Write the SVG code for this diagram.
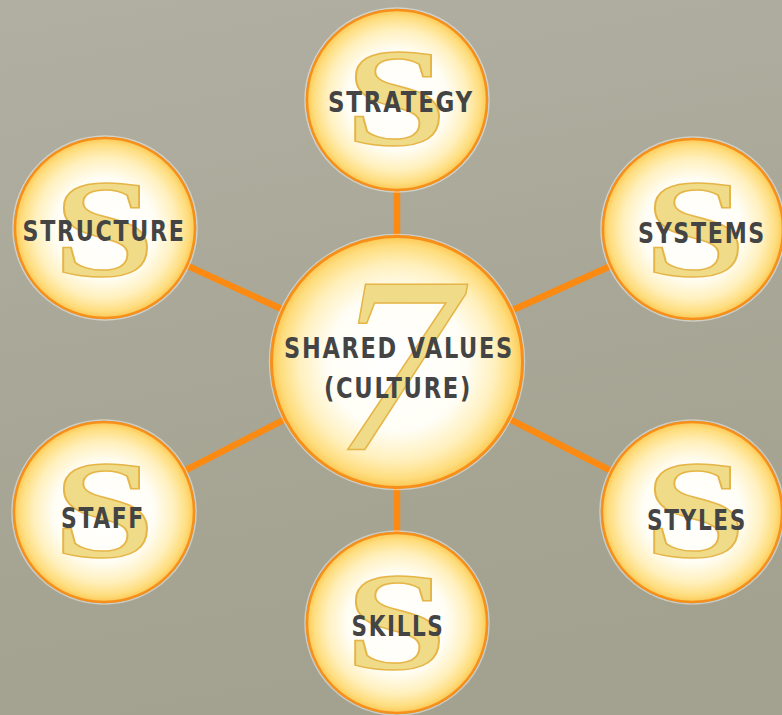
<svg xmlns="http://www.w3.org/2000/svg" width="782" height="715" viewBox="0 0 782 715">
  <defs>
    <linearGradient id="bg" x1="0" y1="0" x2="0.2" y2="1">
      <stop offset="0" stop-color="#b0afa2"/>
      <stop offset="0.5" stop-color="#a9a898"/>
      <stop offset="1" stop-color="#a3a18f"/>
    </linearGradient>
    <radialGradient id="ball" cx="0.5" cy="0.5" r="0.5">
      <stop offset="0" stop-color="#ffffff"/>
      <stop offset="0.55" stop-color="#fffef6"/>
      <stop offset="0.78" stop-color="#fff0bd"/>
      <stop offset="0.93" stop-color="#fedd7e"/>
      <stop offset="1" stop-color="#fcc853"/>
    </radialGradient>
    <style>
      .ring { fill: url(#ball); stroke: #f7901a; stroke-width: 2.5; }
      .halo { fill: none; stroke: #ffffff; stroke-opacity: 0.45; stroke-width: 1.5; }
      .big { font-family: "Liberation Serif", serif; font-weight: bold; font-size: 140px; fill: #efdb88; stroke: #e6b548; stroke-width: 1.5; text-anchor: middle; }
      .seven { font-family: "Liberation Serif", serif; font-style: italic; font-size: 252px; fill: #efdb88; stroke: #e6b548; stroke-width: 1.5; text-anchor: middle; }
      .lbl { font-family: "Liberation Sans Narrow", "DejaVu Sans Condensed", "Liberation Sans", sans-serif; font-weight: bold; font-size: 29px; letter-spacing: 2px; fill: #444444; text-anchor: middle; }
      .conn { stroke: #fb8a12; stroke-width: 6.5; stroke-linecap: round; }
    </style>
  </defs>
  <rect width="782" height="715" fill="url(#bg)"/>

  <g id="connectors">
    <line class="conn" x1="397" y1="362" x2="397" y2="100"/>
    <line class="conn" x1="397" y1="362" x2="105" y2="228"/>
    <line class="conn" x1="397" y1="362" x2="693" y2="229"/>
    <line class="conn" x1="397" y1="362" x2="104" y2="512"/>
    <line class="conn" x1="397" y1="362" x2="692" y2="512"/>
    <line class="conn" x1="397" y1="362" x2="397" y2="623"/>
  </g>

  <g id="strategy">
    <circle class="halo" cx="397" cy="100" r="92"/>
    <circle class="ring" cx="397" cy="100" r="90"/>
    <text class="big" transform="translate(396,145) scale(1.3,1)">S</text>
    <text class="lbl" x="401" y="112" textLength="146" lengthAdjust="spacingAndGlyphs">STRATEGY</text>
  </g>

  <g id="structure">
    <circle class="halo" cx="105" cy="228" r="92"/>
    <circle class="ring" cx="105" cy="228" r="90"/>
    <text class="big" transform="translate(104,276) scale(1.3,1)">S</text>
    <text class="lbl" x="104" y="241" textLength="163" lengthAdjust="spacingAndGlyphs">STRUCTURE</text>
  </g>

  <g id="systems">
    <circle class="halo" cx="693" cy="229" r="92"/>
    <circle class="ring" cx="693" cy="229" r="90"/>
    <text class="big" transform="translate(695,276) scale(1.3,1)">S</text>
    <text class="lbl" x="702" y="243" textLength="128" lengthAdjust="spacingAndGlyphs">SYSTEMS</text>
  </g>

  <g id="staff">
    <circle class="halo" cx="104" cy="512" r="92"/>
    <circle class="ring" cx="104" cy="512" r="90"/>
    <text class="big" transform="translate(104,557) scale(1.3,1)">S</text>
    <text class="lbl" x="103" y="528" textLength="84" lengthAdjust="spacingAndGlyphs">STAFF</text>
  </g>

  <g id="styles">
    <circle class="halo" cx="692" cy="512" r="92"/>
    <circle class="ring" cx="692" cy="512" r="90"/>
    <text class="big" transform="translate(695,557) scale(1.3,1)">S</text>
    <text class="lbl" x="697" y="530" textLength="100" lengthAdjust="spacingAndGlyphs">STYLES</text>
  </g>

  <g id="skills">
    <circle class="halo" cx="397" cy="623" r="92"/>
    <circle class="ring" cx="397" cy="623" r="90"/>
    <text class="big" transform="translate(396,669) scale(1.3,1)">S</text>
    <text class="lbl" x="398" y="636" textLength="93" lengthAdjust="spacingAndGlyphs">SKILLS</text>
  </g>

  <g id="shared-values">
    <circle class="halo" cx="397" cy="362" r="127.5"/>
    <circle class="ring" cx="397" cy="362" r="125.5" style="stroke-width:3"/>
    <text class="seven" x="396" y="450">7</text>
    <text class="lbl" x="399" y="358" textLength="230" lengthAdjust="spacingAndGlyphs">SHARED VALUES</text>
    <text class="lbl" x="398" y="398" textLength="148" lengthAdjust="spacingAndGlyphs">(CULTURE)</text>
  </g>
</svg>
